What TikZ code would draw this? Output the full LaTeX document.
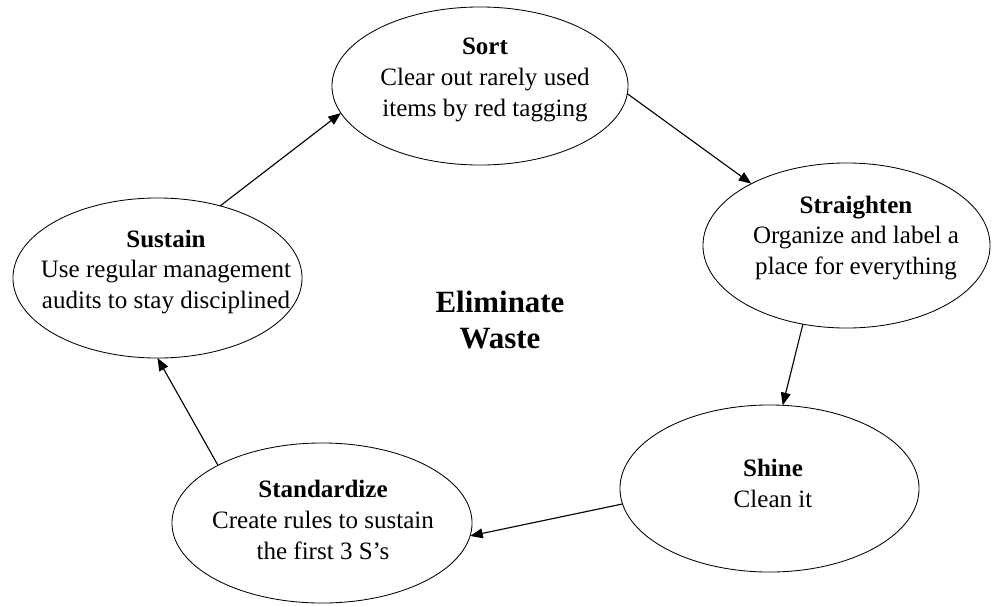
\documentclass[tikz,border=0pt]{standalone}
\usepackage{fontspec}
\setmainfont{Liberation Serif}
\usetikzlibrary{positioning,arrows.meta,shapes.geometric}

\begin{document}
\begin{tikzpicture}[x=0.025cm,y=-0.025cm,
	stage/.style={ellipse,draw=black,line width=0.6pt,inner sep=0pt,outer sep=0pt},
	txt/.style={align=center,inner sep=0pt,font=\fontsize{17.8}{22}\selectfont},
	flow/.style={-{Triangle[length=9pt,width=7pt]},line width=0.8pt}]

	\useasboundingbox (0,0) rectangle (992,605);

	%ellipses
	\node[stage,minimum width=7.4cm,minimum height=3.95cm] (sort) at (480,86) {};
	\node[stage,minimum width=7.175cm,minimum height=4.125cm] (straighten) at (846.5,245.5) {};
	\node[stage,minimum width=7.475cm,minimum height=4.175cm] (shine) at (769.5,488.5) {};
	\node[stage,minimum width=7.5cm,minimum height=4cm] (standardize) at (322,523) {};
	\node[stage,minimum width=7.225cm,minimum height=4cm] (sustain) at (157.5,278) {};

	%texts
	\node[txt] (sortTxt) at (485,80) {\textbf{Sort}\\Clear out rarely used\\items by red tagging};
	\node[txt] (straightenTxt) at (856,238) {\textbf{Straighten}\\Organize and label a\\place for everything};
	\node[txt] (shineTxt) at (773,483) {\textbf{Shine}\\Clean it};
	\node[txt] (standardizeTxt) at (323,520) {\textbf{Standardize}\\Create rules to sustain\\the first 3 S’s};
	\node[txt] (sustainTxt) at (166,272) {\textbf{Sustain}\\Use regular management\\audits to stay disciplined};
	\node[txt,font=\fontsize{22}{25.6}\selectfont\bfseries] (wasteTxt) at (500,320) {Eliminate\\Waste};

	%arrows
	\draw[flow] (sort.-3) -- (straighten.147);
	\draw[flow] (straighten.241) -- (shine.81.5);
	\draw[flow] (shine.186.4) -- (standardize.-5.2);
	\draw[flow] (standardize.151) -- (sustain.-90);
	\draw[flow] (sustain.49.3) -- (sort.-169);

\end{tikzpicture}
\end{document}
